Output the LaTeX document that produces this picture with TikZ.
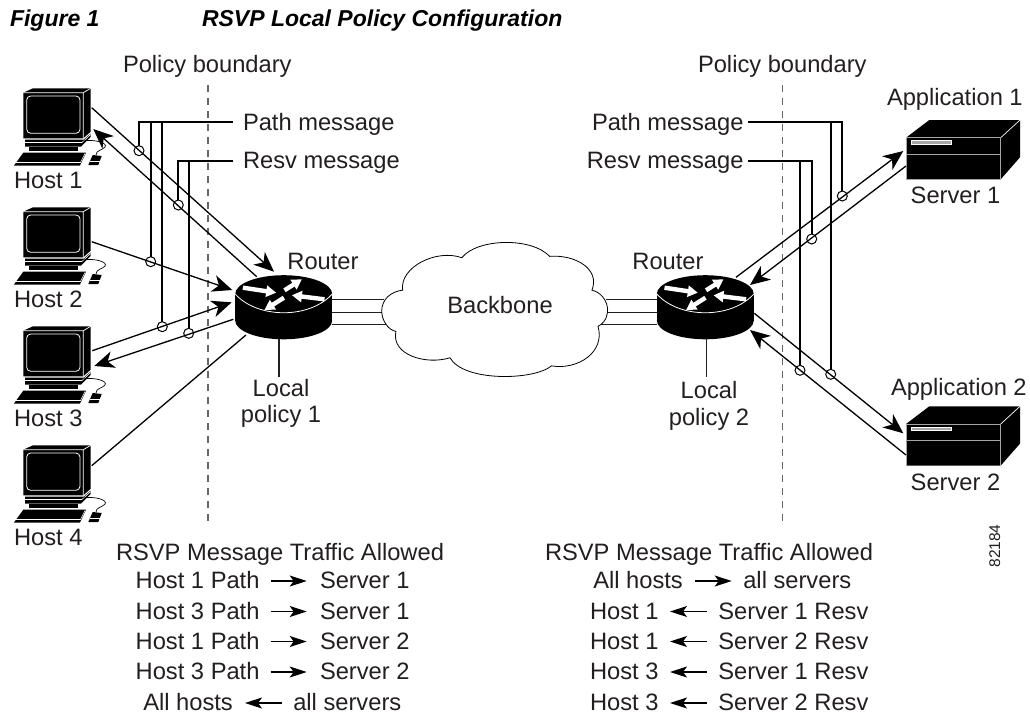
\documentclass[tikz,border=0pt]{standalone}
\usepackage{fontspec}
\setmainfont{Liberation Sans}
\usetikzlibrary{arrows.meta}
\definecolor{ink}{HTML}{231F20}
\definecolor{dash}{HTML}{666666}
\tikzset{
  every node/.style={inner sep=0pt,outer sep=0pt,text=ink,font=\fontsize{23.7}{26}\selectfont},
  lab/.style={anchor=base west},
  labc/.style={anchor=base},
  labe/.style={anchor=base east},
  ttl/.style={anchor=base west,font=\fontsize{23}{26}\bfseries\itshape\selectfont,text=black},
  conn/.style={line width=1.3pt,color=black},
  headarr/.style={-{Stealth[length=20pt,width=17pt,inset=6pt]}},
  smallarr/.style={line width=1.2pt,color=black},
  smallr/.style={-{Stealth[length=17pt,width=11pt,inset=4pt]}},
  bus/.style={line width=1.8pt,color=black},
  tapc/.style={circle,draw=black,line width=1pt,minimum size=10pt,fill=none},
  boundary/.style={dashed,dash pattern=on 7pt off 6pt,line width=1.1pt,color=dash},
  lead/.style={line width=1.2pt,color=ink},
  whitea/.style={white,line width=4.4pt,-{Triangle[length=10pt,width=11pt]}},
  hostpc/.pic={
    \fill[black] (23.3,92.7)--(33,88.3)--(90.7,88.3)--(90.7,131.7)--(83.3,138.3)--(23.3,138.3)--cycle;
    \draw[white,line width=.7pt] (23.3,92.7)--(83.3,92.7)--(90.7,88.3) (83.3,92.7)--(83.3,138.3);
    \draw[white,line width=.8pt,rounded corners=4pt] (26.7,96) rectangle (80,133.3);
    \fill[black] (25,139.5)--(84,139.5)--(90.7,133.5)--(90.7,137)--(81,146.5)--(25,146.5)--cycle;
    \fill[black] (29,147)--(78,147)--(78,151)--(29,151)--cycle;
    \draw[white,line width=.6pt] (25,142.5)--(82,142.5)--(90.7,134.5);
    \fill[black] (23.3,152.7)--(86,152.7)--(80,165.5)--(14,165.5)--cycle;
    \draw[white,line width=.6pt] (15.5,162.5)--(80.5,162.5)--(85,153.5);
    \fill[black] (92.7,155)--(101.7,156)--(98.3,165)--(88.3,165)--cycle;
    \draw[white,line width=.5pt] (90,161.5)--(99.5,161.5);
    \draw[black,line width=.7pt] (83,141) .. controls (95,139) and (108,143) .. (105,147) .. controls (103,150) and (96,150) .. (96,155);
  },
  routerpc/.pic={
    \fill[black] (-48.5,0) rectangle (48.5,26.5);
    \fill[black] (0,26.5) ellipse [x radius=48.5pt,y radius=18.8pt];
    \fill[black] (0,0) ellipse [x radius=48.5pt,y radius=18.8pt];
    \draw[white,line width=.8pt] (-48.5,0) .. controls (-26,25) and (26,25) .. (48.5,0);
    \draw[whitea] (-40.8,-6.3)--(-7.5,-1.3);
    \draw[whitea] (0.8,-3.7)--(18.2,-14.7);
    \draw[whitea] (40.8,5.3)--(8.2,1.3);
    \draw[whitea] (0.2,3.7)--(-19.2,16);
  },
  serverpc/.pic={
    \fill[black] (906,137.7)--(929.3,120)--(1020,120)--(1020,157.3)--(1000.7,179.3)--(906,179.3)--cycle;
    \draw[white,line width=.7pt] (1000.7,137.7)--(1020,120);
    \draw[gray!70,line width=.9pt] (906,179.3)--(906,137.7)--(1000.7,137.7)--(1000.7,179.3);
    \draw[gray!70,line width=1pt] (906,154)--(1000.7,154);
    \draw[white,fill=gray!70,line width=.6pt] (911,140.7) rectangle (951.7,144.3);
  }
}
\begin{document}
\begin{tikzpicture}[x=1pt,y=-1pt]
\useasboundingbox[fill=white] (0,0) rectangle (1030,715);
% title
\node[ttl] (figno) at (10,26) {Figure 1};
\node[ttl] (figtitle) at (202,26) {RSVP Local Policy Configuration};
% boundaries
\coordinate (b1t) at (208,85); \coordinate (b1b) at (208,523);
\coordinate (b2t) at (782.3,85); \coordinate (b2b) at (782.3,523);
\draw[boundary] (b1t)--(b1b);
\draw[boundary] (b2t)--(b2b);
\node[lab] (pb1) at (123,72.7) {Policy boundary};
\node[lab] (pb2) at (698,72.7) {Policy boundary};
% hosts
\pic at (0,0) {hostpc};
\pic at (0,119) {hostpc};
\pic at (0,238) {hostpc};
\pic at (0,357) {hostpc};
\node[lab] (host1) at (14,188) {Host 1};
\node[lab] (host2) at (14,307) {Host 2};
\node[lab] (host3) at (14,426.5) {Host 3};
\node[lab] (host4) at (14,545.5) {Host 4};
% routers
\pic at (283.7,294) {routerpc};
\pic at (705.3,294) {routerpc};
\node[labc] (r1) at (323,269) {Router};
\node[labc] (r2) at (668,269) {Router};
% servers
\pic at (0,0) {serverpc};
\pic at (0,286.3) {serverpc};
\node[lab] (app1) at (887,105) {Application 1};
\node[lab] (srv1) at (910.7,203) {Server 1};
\node[lab] (app2) at (891,395) {Application 2};
\node[lab] (srv2) at (910.7,490.7) {Server 2};
\node[anchor=base,rotate=90,font=\fontsize{15.5}{18}\selectfont] (idn) at (1000,546) {82184};
% backbone links
\coordinate (l1a) at (332,299.3); \coordinate (l1b) at (384,299.3);
\coordinate (l2a) at (332,312.3); \coordinate (l2b) at (382,312.3);
\coordinate (l3a) at (332,324.3); \coordinate (l3b) at (386,324.3);
\coordinate (r1a) at (606,299.3); \coordinate (r1b) at (657,299.3);
\coordinate (r2a) at (606,312.3); \coordinate (r2b) at (657,312.3);
\coordinate (r3a) at (598,324.3); \coordinate (r3b) at (657,324.3);
\draw[lead] (l1a)--(l1b) (l2a)--(l2b) (l3a)--(l3b) (r1a)--(r1b) (r2a)--(r2b) (r3a)--(r3b);
% cloud
\begin{scope}[shift={(210,230)},x=.338pt,y=-.338pt]
\draw[black,line width=.8pt,fill=white] (508,240) .. controls (508,205) and (535,182) .. (570,178)
 .. controls (560,110) and (670,55) .. (745,82)
 .. controls (790,25) and (950,20) .. (1005,78)
 .. controls (1080,72) and (1155,115) .. (1130,178)
 .. controls (1180,190) and (1195,260) .. (1148,285)
 .. controls (1170,360) and (1090,415) .. (1010,402)
 .. controls (960,445) and (750,450) .. (710,378)
 .. controls (640,400) and (535,370) .. (550,300)
 .. controls (525,295) and (508,265) .. (508,240) -- cycle;
\end{scope}
\node[labc] (bb) at (500,313) {Backbone};
% local policy
\node[labc] (lp1a) at (281,396) {Local};
\node[labc] (lp1b) at (281,422.7) {policy 1};
\node[labc] (lp2a) at (709,398) {Local};
\node[labc] (lp2b) at (709,425) {policy 2};
\coordinate (lr1) at (279,339); \coordinate (lr1e) at (279,376.5);
\coordinate (lr2) at (706.7,339); \coordinate (lr2e) at (706.7,376.5);
\draw[lead] (lr1)--(lr1e) (lr2)--(lr2e);
% left connectors
\coordinate (c1a) at (91.7,107.7); \coordinate (c1b) at (274,271.7);
\coordinate (c2a) at (256.7,276.7); \coordinate (c2b) at (93.3,129);
\coordinate (c3a) at (91.7,241.7); \coordinate (c3b) at (232.3,290);
\coordinate (c4a) at (92.3,350.7); \coordinate (c4b) at (231.7,302.3);
\coordinate (c5a) at (233.3,319.3); \coordinate (c5b) at (94.3,366);
\coordinate (c6a) at (91.7,465.7); \coordinate (c6b) at (246,335);
\draw[conn,headarr] (c1a)--(c1b);
\draw[conn,headarr] (c2a)--(c2b);
\draw[conn,headarr] (c3a)--(c3b);
\draw[conn,headarr] (c4a)--(c4b);
\draw[conn,headarr] (c5a)--(c5b);
\draw[conn] (c6a)--(c6b);
% right connectors
\coordinate (d1a) at (736,277.3); \coordinate (d1b) at (903.3,151);
\coordinate (d2a) at (906,166); \coordinate (d2b) at (750,285);
\coordinate (d3a) at (754.3,313.3); \coordinate (d3b) at (903.3,433.3);
\coordinate (d4a) at (906,455); \coordinate (d4b) at (750,330);
\draw[conn,headarr] (d1a)--(d1b);
\draw[conn,headarr] (d2a)--(d2b);
\draw[conn,headarr] (d3a)--(d3b);
\draw[conn,headarr] (d4a)--(d4b);
% tap markers
\node[tapc] (t1) at (139,150.7) {};
\node[tapc] (t2) at (150.7,261.7) {};
\node[tapc] (t3) at (162.3,326.7) {};
\node[tapc] (t4) at (178.3,205) {};
\node[tapc] (t5) at (188.7,333.3) {};
\node[tapc] (u1) at (842.3,196) {};
\node[tapc] (u2) at (830.7,374.3) {};
\node[tapc] (u3) at (811.7,239) {};
\node[tapc] (u4) at (800,370.3) {};
% message labels
\node[lab] (pm1) at (243,130.5) {Path message};
\node[lab] (rm1) at (243,168) {Resv message};
\node[labe] (pm2) at (743.5,130.5) {Path message};
\node[labe] (rm2) at (743.5,168) {Resv message};
\coordinate (pe1) at (233,122.3); \coordinate (re1) at (233,160.7);
\coordinate (pe2) at (748.3,122.3); \coordinate (re2) at (748.3,160.7);
\draw[bus] (pe1) -| (t1.north);
\draw[bus] (pe1) -| (t2.north);
\draw[bus] (pe1) -| (t3.north);
\draw[bus] (re1) -| (t4.north);
\draw[bus] (re1) -| (t5.north);
\draw[bus] (pe2) -| (u1.north);
\draw[bus] (pe2) -| (u2.north);
\draw[bus] (re2) -| (u3.north);
\draw[bus] (re2) -| (u4.north);
% left table
\node[lab] (tl0) at (116,560) {RSVP Message Traffic Allowed};
\node[lab] (tl1) at (135.7,588.3) {Host 1 Path};
\node[lab] (sl1) at (320,588.3) {Server 1};
\node[lab] (tl2) at (135.7,619) {Host 3 Path};
\node[lab] (sl2) at (320,619) {Server 1};
\node[lab] (tl3) at (135.7,649) {Host 1 Path};
\node[lab] (sl3) at (320,649) {Server 2};
\node[lab] (tl4) at (135.7,679.3) {Host 3 Path};
\node[lab] (sl4) at (320,679.3) {Server 2};
\node[lab] (tl5) at (143.3,710.7) {All hosts};
\node[lab] (sl5) at (293.3,710.7) {all servers};
\draw[smallarr,smallr] (270.7,581) -- (306.7,581);
\draw[smallarr,smallr] (270.7,611.5) -- (306.7,611.5);
\draw[smallarr,smallr] (270.7,641.5) -- (306.7,641.5);
\draw[smallarr,smallr] (270.7,672) -- (306.7,672);
\draw[smallarr,smallr] (281.7,703) -- (245,703);
% right table
\node[lab] (tr0) at (545,560) {RSVP Message Traffic Allowed};
\node[lab] (tr1) at (593.3,588.3) {All hosts};
\node[lab] (sr1) at (743.3,588.3) {all servers};
\node[lab] (tr2) at (590,619) {Host 1};
\node[lab] (sr2) at (718.3,619) {Server 1 Resv};
\node[lab] (tr3) at (590,649) {Host 1};
\node[lab] (sr3) at (718.3,649) {Server 2 Resv};
\node[lab] (tr4) at (590,679.3) {Host 3};
\node[lab] (sr4) at (718.3,679.3) {Server 1 Resv};
\node[lab] (tr5) at (590,710.7) {Host 3};
\node[lab] (sr5) at (718.3,710.7) {Server 2 Resv};
\draw[smallarr,smallr] (695,581) -- (731.7,581);
\draw[smallarr,smallr] (706.7,611.5) -- (670,611.5);
\draw[smallarr,smallr] (706.7,641.5) -- (670,641.5);
\draw[smallarr,smallr] (706.7,672) -- (670,672);
\draw[smallarr,smallr] (706.7,703) -- (670,703);
\end{tikzpicture}
\end{document}
